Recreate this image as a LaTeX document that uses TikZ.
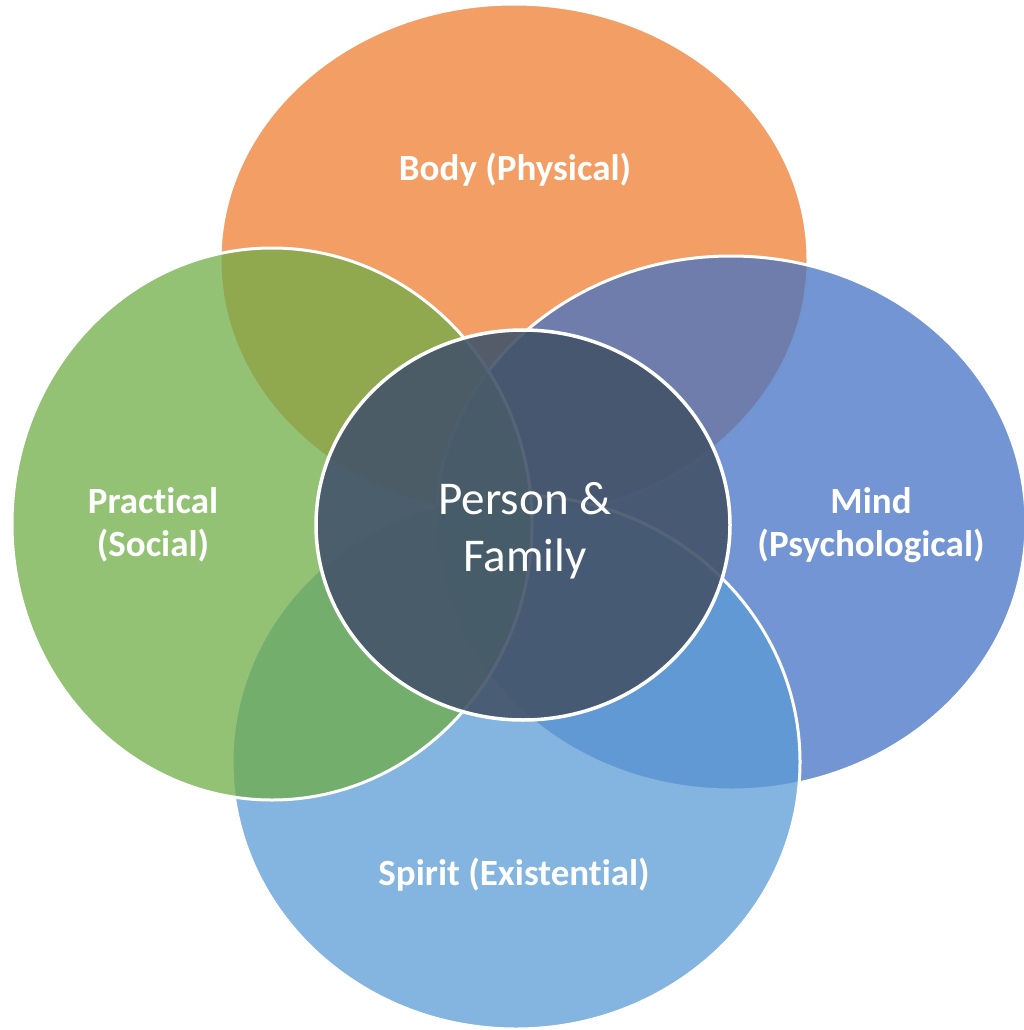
\documentclass[tikz,border=0pt]{standalone}
\usepackage{fontspec}
\setmainfont{Carlito}[Ligatures=NoCommon]
\usetikzlibrary{shapes.geometric}
\definecolor{bodyc}{HTML}{ED7D31}
\definecolor{mindc}{HTML}{4472C4}
\definecolor{spiritc}{HTML}{5B9BD5}
\definecolor{practc}{HTML}{70AD47}
\definecolor{corec}{HTML}{44546A}
\begin{document}
\begin{tikzpicture}[x=1pt,y=-1pt,
  petal/.style={ellipse, draw=white, line width=3pt, fill opacity=0.75, inner sep=0pt, outer sep=0pt},
  core/.style={ellipse, draw=white, line width=3.5pt, fill=corec, fill opacity=0.9, inner sep=0pt, outer sep=0pt},
  lbl/.style={text=white, align=center, inner sep=0pt, font=\bfseries\fontsize{37}{43}\selectfont},
  corelbl/.style={text=white, align=center, inner sep=0pt, font=\fontsize{47}{57}\selectfont}]
\useasboundingbox (0,0) rectangle (1024,1030);
% four overlapping domains
\node[petal, fill=bodyc,   minimum width=588pt, minimum height=512pt] (body)   at (514,260) {};
\node[petal, fill=mindc,   minimum width=590pt, minimum height=534pt] (mind)   at (731,523) {};
\node[petal, fill=spiritc, minimum width=568pt, minimum height=534pt] (spirit) at (516,762) {};
\node[petal, fill=practc,  minimum width=520pt, minimum height=552pt] (pract)  at (272,524) {};
% centre
\node[core, minimum width=414pt, minimum height=390pt] (core) at (523,525) {};
% labels
\node[lbl] (bodytext)   at (515,170) {Body (Physical)};
\node[lbl] (mindtext)   at (871,525) {Mind\\(Psychological)};
\node[lbl] (spirittext) at (514,875) {Spirit (Existential)};
\node[lbl] (practtext)  at (153,525) {Practical\\(Social)};
\node[corelbl] (coretext) at (525,531) {Person \&\\Family};
\end{tikzpicture}
\end{document}
